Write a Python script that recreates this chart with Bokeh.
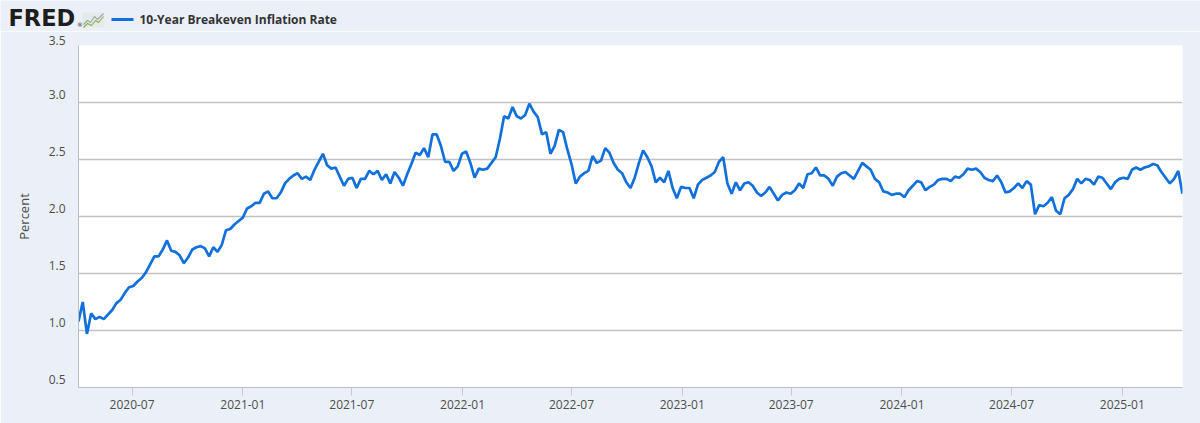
import pandas as pd
from bokeh.plotting import figure
from bokeh.layouts import column
from bokeh.core.properties import value
from bokeh.models import (Range1d, FixedTicker, MonthsTicker, DatetimeTickFormatter,
                          CustomJSTickFormatter, ColumnDataSource)
from bokeh.embed import file_html
from bokeh.resources import INLINE

series_name = "10-Year Breakeven Inflation Rate"
y_label = "Percent"
logo_text = "FRED"
first_week = "2020-04-03"
y_ticks = [0.5, 1.0, 1.5, 2.0, 2.5, 3.0, 3.5]

# weekly readings (percent)
values = [
    1.08, 1.25, 0.97, 1.15, 1.10, 1.12, 1.10, 1.14, 1.18, 1.24,
    1.27, 1.33, 1.38, 1.39, 1.43, 1.46, 1.51, 1.58, 1.65, 1.65,
    1.71, 1.79, 1.70, 1.69, 1.66, 1.59, 1.64, 1.71, 1.73, 1.74,
    1.72, 1.65, 1.73, 1.69, 1.75, 1.88, 1.89, 1.93, 1.96, 1.99,
    2.07, 2.09, 2.12, 2.12, 2.20, 2.22, 2.16,
    2.16, 2.21, 2.29, 2.33, 2.36, 2.38, 2.33, 2.35, 2.32, 2.41,
    2.48, 2.55, 2.45, 2.42, 2.43, 2.35, 2.27, 2.33, 2.34, 2.25,
    2.33, 2.33, 2.40, 2.37, 2.40, 2.32, 2.37, 2.29, 2.39, 2.34,
    2.27, 2.37, 2.46, 2.56, 2.54, 2.60, 2.52, 2.72, 2.72, 2.62,
    2.48, 2.48, 2.40, 2.44, 2.55, 2.57, 2.47,
    2.34, 2.42, 2.41, 2.42, 2.47, 2.52, 2.68, 2.88, 2.86, 2.96,
    2.88, 2.86, 2.89, 2.99, 2.92, 2.87, 2.72, 2.74, 2.55, 2.62,
    2.76, 2.74, 2.59, 2.46, 2.29, 2.35, 2.38, 2.40, 2.53, 2.47,
    2.49, 2.60, 2.56, 2.47, 2.41, 2.38, 2.30, 2.25, 2.34, 2.47,
    2.58, 2.52, 2.44, 2.30, 2.34,
    2.30, 2.40, 2.25, 2.16, 2.26, 2.25, 2.25, 2.16, 2.28, 2.32,
    2.34, 2.36, 2.39, 2.48, 2.52, 2.29, 2.20, 2.30, 2.23, 2.29,
    2.30, 2.27, 2.21, 2.18, 2.21, 2.26, 2.20, 2.14, 2.19, 2.21,
    2.20, 2.23, 2.29, 2.25, 2.37, 2.38, 2.43, 2.36, 2.36, 2.33,
    2.27, 2.35, 2.38, 2.39, 2.36,
    2.33, 2.40, 2.47, 2.44, 2.41, 2.33, 2.30, 2.22, 2.21, 2.19,
    2.20, 2.20, 2.17, 2.23, 2.27, 2.31, 2.30, 2.23, 2.26, 2.28,
    2.32, 2.33, 2.33, 2.31, 2.35, 2.34, 2.37, 2.42, 2.41, 2.42,
    2.39, 2.34, 2.32, 2.31, 2.36, 2.30, 2.21, 2.22, 2.25, 2.29,
    2.25, 2.31, 2.28, 2.02, 2.10, 2.09, 2.12, 2.17, 2.05, 2.02,
    2.16, 2.19, 2.24, 2.33, 2.29, 2.33, 2.32, 2.28, 2.35, 2.34,
    2.29, 2.24, 2.30, 2.33, 2.34, 2.33, 2.41, 2.43, 2.41, 2.43,
    2.44, 2.46, 2.45, 2.39, 2.34, 2.29, 2.33, 2.40, 2.20,
]

dates = pd.date_range(first_week, periods=len(values), freq="7D")
src = ColumnDataSource(dict(date=dates, rate=values))

BG = "#ebf0f8"
LINE = "#1170dc"
FONT = "Open Sans"
W = 1200
HEADER_H = 31

# ---------------- header (logo + legend) ----------------
hdr = figure(width=W, height=HEADER_H, x_range=Range1d(0, W), y_range=Range1d(HEADER_H, 0),
             output_backend="svg", toolbar_location=None, title=None,
             x_axis_location=None, y_axis_location=None,
             min_border=0, min_border_left=0, min_border_right=0,
             min_border_top=0, min_border_bottom=0, frame_align=False,
             background_fill_color=BG, border_fill_color=BG, outline_line_color=None)
hdr.xgrid.visible = False
hdr.ygrid.visible = False
hdr.text(x=[8], y=[17.6], text=[logo_text], text_font=value("DejaVu Sans"),
         text_font_style="bold", text_font_size="22.5px", text_color="#1e1e1c",
         text_baseline="middle", text_align="left")
hdr.text(x=[76.5], y=[23.5], text=["\u00ae"], text_font=value("DejaVu Sans"),
         text_font_size="6px", text_color="#1e1e1c", text_baseline="middle")
# small logo chart icon
hdr.quad(left=[82], right=[104], top=[12], bottom=[27], fill_color="#e4ebe6",
         line_color=None)
hdr.line(x=[83, 87, 90, 94, 97, 103], y=[24, 20, 22, 16, 19, 13],
         line_color="#a0a4a8", line_width=1.1)
hdr.line(x=[83, 87, 91, 95, 98, 103], y=[27, 23, 25, 20, 22, 16],
         line_color="#7db24a", line_width=1.1)
# legend swatch and label
hdr.line(x=[111, 133], y=[19, 19], line_color=LINE, line_width=3)
hdr.text(x=[139], y=[18.5], text=[series_name], text_font=value(FONT),
         text_font_style="bold", text_font_size="12px", text_color="#333333",
         text_baseline="middle", text_align="left")

# ---------------- main chart ----------------
fig = figure(width=W, height=423 - HEADER_H, x_axis_type="datetime", title=None,
             output_backend="svg", toolbar_location=None, frame_align=False,
             x_range=Range1d(dates[0], dates[-1]), y_range=Range1d(0.5, 3.5),
             min_border_left=78, min_border_right=18, min_border_top=45 - HEADER_H,
             min_border_bottom=36,
             background_fill_color="white", border_fill_color=BG, outline_line_color=None)

fig.line("date", "rate", source=src, color=LINE, line_width=2.7)

fig.xaxis.ticker = MonthsTicker(months=[0, 6])
fig.xaxis.formatter = DatetimeTickFormatter(months="%Y-%m", days="%Y-%m", years="%Y-%m")
fig.yaxis.ticker = FixedTicker(ticks=y_ticks)
fig.yaxis.formatter = CustomJSTickFormatter(code="return tick.toFixed(1) + '\\n';")
fig.xgrid.grid_line_color = None
fig.ygrid.grid_line_color = "#c2c2c2"
fig.ygrid.grid_line_width = 1.3

for ax in (fig.xaxis[0], fig.yaxis[0]):
    ax.axis_line_color = "#bdbdbd"
    ax.minor_tick_line_color = None
    ax.major_label_text_font = FONT
    ax.major_label_text_font_size = "12px"
    ax.major_label_text_color = "#4d4d4d"

fig.yaxis.major_tick_line_color = None
fig.yaxis.major_tick_out = 0
fig.yaxis.major_tick_in = 0
fig.yaxis.major_label_standoff = 13
fig.yaxis.major_label_text_line_height = 1.0
fig.yaxis.axis_label = y_label
fig.yaxis.axis_label_text_font = FONT
fig.yaxis.axis_label_text_font_size = "13px"
fig.yaxis.axis_label_text_font_style = "normal"
fig.yaxis.axis_label_text_color = "#4d4d4d"
fig.yaxis.axis_label_standoff = 13

fig.xaxis.major_tick_line_color = "#c8c8c8"
fig.xaxis.major_tick_out = 8
fig.xaxis.major_tick_in = 0
fig.xaxis.major_label_standoff = 4

p = column(hdr, fig, spacing=0)

open("out.html", "w").write(file_html(p, INLINE))
